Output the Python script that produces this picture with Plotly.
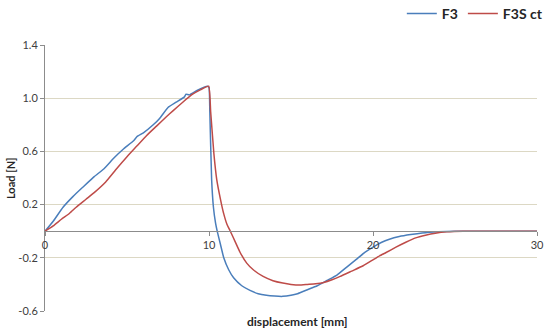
import plotly.graph_objects as go

# ---- data ----
f3_x = [0, 0.5, 1.1, 1.7, 2.3, 3.0, 3.6, 4.2, 4.8, 5.4, 5.6, 6.0, 6.6, 7.0, 7.5, 8.0, 8.5, 8.6, 8.8,
        9.3, 9.9, 10.0, 10.05, 10.16, 10.27, 10.4, 10.5, 10.7, 10.9, 11.2, 11.5, 12.0, 12.5, 13.0,
        13.5, 14.0, 14.5, 15.0, 15.4, 16.0, 16.6, 17.2, 17.8, 18.4, 19.0, 19.5, 20.0, 20.5, 21.0,
        21.6, 22.3, 23.0, 24.0, 25.0, 30.0]
f3_y = [0, 0.075, 0.18, 0.26, 0.33, 0.41, 0.47, 0.55, 0.62, 0.68, 0.71, 0.74, 0.80, 0.85, 0.93, 0.97,
        1.01, 1.03, 1.025, 1.06, 1.09, 1.08, 0.90, 0.39, 0.18, 0.06, 0.0, -0.10, -0.20, -0.29, -0.35,
        -0.41, -0.445, -0.47, -0.482, -0.488, -0.49, -0.482, -0.47, -0.44, -0.41, -0.37, -0.33,
        -0.27, -0.21, -0.16, -0.12, -0.085, -0.06, -0.04, -0.025, -0.013, -0.004, 0, 0]

f3s_x = [0, 0.5, 1.0, 1.5, 1.9, 2.5, 3.0, 3.7, 4.3, 5.0, 5.6, 6.2, 6.8, 7.4, 7.8, 8.4, 9.0, 9.5, 9.98,
         10.1, 10.3, 10.47, 10.7, 10.9, 11.1, 11.3, 11.6, 11.9, 12.3, 12.7, 13.3, 13.9, 14.5, 15.0,
         15.5, 16.0, 16.5, 17.0, 17.5, 18.0, 18.7, 19.4, 20.0, 20.4, 20.8, 21.4, 22.0, 22.6, 23.2,
         23.8, 24.5, 25.5, 30.0]
f3s_y = [0, 0.04, 0.09, 0.135, 0.18, 0.24, 0.29, 0.37, 0.46, 0.56, 0.64, 0.72, 0.79, 0.86, 0.905,
         0.97, 1.03, 1.065, 1.09, 0.90, 0.58, 0.39, 0.24, 0.13, 0.05, 0.0, -0.08, -0.16, -0.24, -0.29,
         -0.34, -0.372, -0.39, -0.40, -0.405, -0.40, -0.395, -0.385, -0.365, -0.34, -0.30, -0.26,
         -0.215, -0.185, -0.16, -0.12, -0.083, -0.05, -0.03, -0.015, -0.005, 0, 0]

x_ticks = [0, 10, 20, 30]
y_ticks = [1.4, 1.0, 0.6, 0.2, -0.2, -0.6]
y_tick_labels = ["1.4", "1.0", "0.6", "0.2", "-0.2", "-0.6"]

FONT = "Lato, 'Open Sans', sans-serif"

fig = go.Figure()
fig.add_trace(go.Scatter(x=f3_x, y=f3_y, mode="lines", name="F3",
                         line=dict(color="#4a7ebb", width=1.5, shape="spline", smoothing=0.4)))
fig.add_trace(go.Scatter(x=f3s_x, y=f3s_y, mode="lines", name="F3S ct",
                         line=dict(color="#be4b48", width=1.5, shape="spline", smoothing=0.4)))

fig.update_layout(
    width=550, height=334,
    margin=dict(l=45, r=13, t=45, b=23, autoexpand=False),
    plot_bgcolor="white", paper_bgcolor="white",
    font=dict(family=FONT, size=11, color="#404040"),
    showlegend=True,
    legend=dict(orientation="h", x=1.022, xanchor="right", y=1.117, yanchor="middle",
                font=dict(family=FONT, size=14, color="#262626", weight="bold"),
                bgcolor="rgba(0,0,0,0)", itemwidth=30, tracegroupgap=0),
    xaxis=dict(range=[0, 30], tickvals=x_ticks, showgrid=False, zeroline=False,
               showline=True, linecolor="#8c8c8c", linewidth=1,
               ticks="outside", ticklen=4, tickcolor="#8c8c8c",
               anchor="free", position=0.3, automargin=False,
               tickfont=dict(size=11, color="#404040")),
    yaxis=dict(range=[-0.6, 1.4], tickvals=y_ticks, ticktext=y_tick_labels,
               showgrid=True, gridcolor="#dcd8c4", gridwidth=1, zeroline=False,
               showline=True, linecolor="#8c8c8c", linewidth=1,
               ticks="outside", ticklen=4, tickcolor="#8c8c8c", automargin=False,
               tickfont=dict(size=11, color="#404040")),
    annotations=[
        dict(text="<b>displacement [mm]</b>", xref="paper", yref="paper",
             x=0.514, y=-0.041, xanchor="center", yanchor="middle", showarrow=False,
             font=dict(family=FONT, size=12, color="#262626")),
        dict(text="<b>Load [N]</b>", xref="paper", yref="paper", textangle=-90,
             x=-0.071, y=0.5, xanchor="center", yanchor="middle", showarrow=False,
             font=dict(family=FONT, size=11, color="#262626")),
    ],
)

# remove the default 8px page margin so the figure fills the window exactly
fig.write_html("out.html",
               config={"displayModeBar": False},
               post_script="document.body.style.margin='0';document.body.style.overflow='hidden';")
